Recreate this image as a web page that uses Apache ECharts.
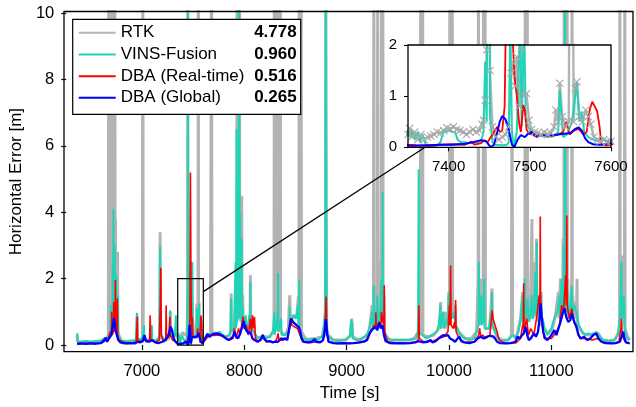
<!DOCTYPE html>
<html><head><meta charset="utf-8">
<script src="https://cdn.jsdelivr.net/npm/echarts@6/dist/echarts.min.js"></script>
<style>html,body{margin:0;padding:0;background:#fff}#c{width:636px;height:407px}</style>
</head><body><div id="c"></div>
<script>
const xTicks = [7000, 8000, 9000, 10000, 11000];
const yTicks = [0, 2, 4, 6, 8, 10];
const insetXTicks = [7400, 7500, 7600];
const insetYTicks = [0, 1, 2];
const legendNames = ['RTK', 'VINS-Fusion', 'DBA (Real-time)', 'DBA (Global)'];
const legendValues = ['4.778', '0.960', '0.516', '0.265'];

// RTK horizontal error [time s, error m]
const rtk = [[6368,0.3],[6372,0.1],[6420,0.08],[6470,0.09],[6520,0.08],[6570,0.1],[6610,0.12],[6640,0.18],[6660,0.2],[6672,0.3],[6676,12],[6680,0.4],[6690,0.5],[6700,2.0],[6704,0.5],[6706,12],[6710,0.6],[6718,0.5],[6725,1.2],[6731,0.6],[6735,12],[6739,0.8],[6742,3.8],[6746,0.6],[6755,0.5],[6762,2.8],[6766,0.4],[6775,0.3],[6800,0.1],[6850,0.09],[6900,0.1],[6950,0.12],[6953,0.9],[6957,0.15],[7005,0.2],[7009,12],[7013,0.2],[7050,0.12],[7100,0.15],[7140,0.12],[7174,0.2],[7178,3.4],[7182,0.3],[7220,0.12],[7260,0.2],[7274,0.3],[7277,1.0],[7280,0.3],[7320,0.25],[7330,0.4],[7335,0.6],[7340,0.3],[7345,0.25],
[7350,0.25],[7352,0.37],[7355,0.2],[7358,0.3],[7362,0.15],[7366,0.25],[7370,0.15],[7374,0.2],[7378,0.22],[7382,0.25],[7386,0.3],[7390,0.28],[7394,0.33],[7398,0.38],[7402,0.36],[7406,0.4],[7410,0.35],[7414,0.33],[7418,0.3],[7422,0.25],[7426,0.3],[7430,0.35],[7434,0.3],[7438,0.33],[7441,0.45],[7443,0.53],[7445,0.92],[7447,1.9],[7449,12],[7451,1.5],[7454,0.4],[7458,0.2],[7462,0.15],[7466,0.2],[7470,0.25],[7474,0.4],[7477,1.45],[7480,1.64],[7482,1.2],[7484,1.77],[7487,0.8],[7490,1.95],[7493,1.0],[7496,1.05],[7499,0.53],[7502,0.35],[7506,0.3],[7510,0.28],[7514,0.25],[7518,0.3],[7522,0.26],[7526,0.28],[7530,0.4],[7532,0.73],[7535,0.5],[7537,1.25],[7540,0.6],[7544,0.4],[7548,0.5],[7551,12],[7554,0.5],[7556,1.15],[7558,1.28],[7561,0.6],[7565,0.5],[7569,0.73],[7572,0.6],[7575,0.45],[7579,0.2],[7583,0.15],[7587,0.12],[7591,0.15],[7595,0.1],[7600,0.12],
[7610,0.15],[7640,0.3],[7670,0.28],[7678,0.3],[7681,12],[7684,0.3],[7710,0.3],[7750,0.35],[7790,0.28],[7830,0.25],[7860,0.3],[7869,0.5],[7872,1.55],[7876,0.4],[7900,0.5],[7912,0.6],[7915,2.0],[7918,0.6],[7927,0.8],[7930,12],[7933,0.9],[7938,4],[7942,0.8],[7950,1.0],[7953,12],[7956,1.0],[7962,3],[7966,0.7],[7975,4.5],[7979,0.6],[7985,1.5],[7990,0.6],[8000,0.8],[8030,0.5],[8056,0.6],[8060,2.1],[8064,0.5],[8090,0.4],[8120,0.25],[8160,0.2],[8200,0.25],[8250,0.25],[8280,0.4],[8291,0.5],[8294,12],[8297,0.5],[8318,0.6],[8321,12],[8324,0.6],[8340,0.6],[8344,1.0],[8349,0.5],[8352,12],[8355,0.4],[8400,0.3],[8430,0.5],[8445,1.5],[8449,0.8],[8480,0.9],[8510,0.8],[8530,1.5],[8534,0.7],[8537,12],[8540,0.7],[8552,0.8],[8556,12],[8559,0.4],[8600,0.18],[8650,0.18],[8700,0.2],[8760,0.25],[8790,0.7],[8794,1.5],[8797,12],[8800,12],[8803,2.0],[8806,0.5],[8820,0.3],[8870,0.15],[8930,0.15],[8990,0.15],[9040,0.3],[9050,0.8],[9060,0.25],[9120,0.15],[9180,0.25],[9220,0.4],[9250,1.2],[9256,0.6],[9262,1.0],[9266,12],[9270,0.8],[9290,0.9],[9295,1.8],[9300,0.8],[9304,12],[9308,0.8],[9330,1.0],[9335,2.5],[9339,0.9],[9342,12],[9346,1.0],[9351,3.0],[9354,12],[9357,0.8],[9365,1.5],[9370,0.4],[9380,0.3],[9420,0.15],[9480,0.15],[9540,0.15],[9600,0.15],[9660,0.2],[9700,0.4],[9704,0.8],[9708,0.3],[9721,0.5],[9724,12],[9727,0.4],[9740,0.4],[9743,12],[9746,0.3],[9800,0.25],[9850,0.3],[9890,0.45],[9915,0.6],[9919,1.3],[9923,0.5],[9960,1.0],[9965,0.5],[9985,1.0],[9990,0.6],[10000,1.5],[10005,0.8],[10009,12],[10013,1.0],[10020,1.5],[10025,0.8],[10032,12],[10036,0.8],[10045,1.0],[10060,1.2],[10065,0.5],[10080,0.5],[10110,0.35],[10160,0.2],[10220,0.2],[10270,0.4],[10285,2.0],[10288,12],[10291,0.8],[10300,1.5],[10305,0.6],[10320,2.0],[10325,0.7],[10334,0.9],[10337,12],[10340,0.8],[10345,2.5],[10350,0.8],[10353,12],[10356,0.5],[10365,0.5],[10400,0.5],[10420,1.7],[10425,0.6],[10440,0.6],[10470,0.25],[10520,0.15],[10580,0.15],[10610,0.3],[10616,8],[10622,0.3],[10660,0.25],[10700,0.8],[10720,1.6],[10725,0.6],[10742,0.8],[10745,12],[10748,0.8],[10762,0.9],[10765,12],[10768,0.9],[10775,1.5],[10780,0.7],[10795,0.9],[10807,0.9],[10811,3.8],[10815,0.8],[10838,0.9],[10842,2.5],[10846,0.9],[10855,3.2],[10859,0.9],[10870,1.3],[10875,0.7],[10900,1.6],[10905,0.6],[10930,0.5],[10970,0.35],[11010,0.5],[11040,0.9],[11070,1.6],[11075,0.8],[11090,2.0],[11095,0.8],[11112,1.0],[11115,3.2],[11119,1.0],[11122,1.5],[11125,12],[11128,1.2],[11131,1.5],[11134,12],[11137,1.5],[11144,3],[11148,1.2],[11151,1.5],[11154,12],[11157,1.0],[11162,2.0],[11167,0.9],[11185,1.2],[11199,1.0],[11202,12],[11205,1.0],[11210,1.5],[11215,0.8],[11230,1.3],[11247,0.8],[11251,2.0],[11255,0.6],[11270,0.6],[11310,0.35],[11360,0.3],[11420,0.35],[11460,0.35],[11500,0.15],[11560,0.12],[11620,0.15],[11660,0.4],[11667,0.8],[11670,12],[11673,0.8],[11680,1.5],[11685,0.8],[11690,2.7],[11695,0.8],[11705,1.2],[11714,0.6],[11718,12],[11721,0.5],[11745,0.25],[11765,0.15]];

// VINS-Fusion
const vins = [[6368,0.36],[6371,0.1],[6400,0.1],[6450,0.12],[6500,0.1],[6550,0.12],[6600,0.14],[6640,0.22],[6660,0.2],[6680,0.3],[6692,0.4],[6695,1.2],[6698,0.4],[6712,0.5],[6715,2.5],[6718,0.5],[6719,0.6],[6722,4.1],[6725,0.6],[6732,0.6],[6735,3.0],[6738,0.6],[6747,0.5],[6750,2.1],[6753,0.5],[6762,0.4],[6765,1.5],[6768,0.3],[6775,0.25],[6800,0.14],[6850,0.12],[6900,0.14],[6940,0.15],[6949,0.2],[6952,0.97],[6955,0.2],[6990,0.15],[7010,0.25],[7017,0.2],[7020,0.6],[7023,0.2],[7060,0.15],[7090,0.2],[7094,0.2],[7097,0.6],[7100,0.15],[7140,0.14],[7170,0.25],[7175,0.3],[7178,2.97],[7181,0.5],[7185,1.2],[7189,0.3],[7220,0.15],[7250,0.25],[7270,0.4],[7273,0.4],[7276,1.05],[7279,0.4],[7310,0.2],[7325,0.4],[7329,0.4],[7332,0.9],[7335,0.3],[7340,0.3],
[7350,0.31],[7352,0.2],[7355,0.34],[7358,0.15],[7362,0.3],[7365,0.1],[7368,0.25],[7372,0.05],[7378,0.02],[7385,0.03],[7390,0.1],[7393,0.28],[7396,0.32],[7400,0.33],[7404,0.3],[7408,0.3],[7411,0.15],[7415,0.1],[7420,0.1],[7425,0.08],[7430,0.1],[7435,0.1],[7440,0.12],[7443,0.3],[7445,1.67],[7447,0.5],[7449,12],[7451,0.6],[7454,0.1],[7458,0.05],[7465,0.04],[7472,0.05],[7474,0.1],[7476,2.5],[7478,0.3],[7480,0.0],[7484,0.3],[7488,2.5],[7490,0.4],[7493,2.5],[7495,0.6],[7498,0.4],[7502,0.3],[7508,0.25],[7515,0.22],[7522,0.2],[7530,0.22],[7535,0.3],[7537,1.12],[7539,0.6],[7541,0.2],[7546,0.25],[7552,0.5],[7555,0.9],[7558,1.25],[7561,0.5],[7564,0.7],[7567,0.3],[7572,0.2],[7578,0.15],[7583,0.12],[7588,0.2],[7592,0.15],[7596,0.12],[7600,0.15],
[7620,0.25],[7640,0.35],[7670,0.3],[7700,0.38],[7730,0.35],[7760,0.4],[7790,0.3],[7820,0.25],[7850,0.3],[7865,0.4],[7869,0.8],[7872,1.4],[7876,0.4],[7900,0.5],[7912,0.5],[7915,2.5],[7918,0.5],[7922,0.6],[7925,6.5],[7928,0.7],[7937,0.8],[7940,5.0],[7943,0.8],[7947,0.8],[7950,12],[7953,12],[7956,0.9],[7960,4.0],[7963,0.8],[7972,0.8],[7975,3.2],[7978,0.7],[7985,1.2],[7990,0.5],[8000,0.7],[8015,0.9],[8020,0.4],[8030,0.5],[8050,0.9],[8057,0.5],[8060,1.9],[8063,0.5],[8090,0.45],[8110,0.3],[8140,0.2],[8180,0.3],[8210,0.2],[8250,0.25],[8280,0.4],[8291,0.4],[8294,1.0],[8297,0.3],[8322,0.8],[8327,0.4],[8330,2.17],[8333,0.4],[8360,0.8],[8365,0.3],[8400,0.3],[8430,0.4],[8442,0.5],[8445,1.16],[8448,0.6],[8470,0.8],[8490,0.9],[8510,0.8],[8525,1.2],[8530,0.6],[8534,0.7],[8537,1.96],[8540,0.5],[8570,0.2],[8620,0.15],[8680,0.2],[8720,0.15],[8770,0.3],[8790,1.0],[8795,12],[8800,12],[8804,1.5],[8808,0.3],[8820,0.25],[8860,0.15],[8920,0.12],[8980,0.15],[9030,0.25],[9042,0.3],[9045,0.77],[9048,0.3],[9052,0.3],[9055,0.7],[9058,0.2],[9100,0.15],[9150,0.2],[9200,0.3],[9230,0.6],[9250,1.0],[9255,0.5],[9262,0.6],[9265,1.8],[9268,0.6],[9280,1.0],[9285,0.5],[9300,1.5],[9305,0.6],[9320,1.0],[9325,0.6],[9340,2.0],[9344,0.7],[9349,0.8],[9352,4.6],[9355,0.8],[9360,1.2],[9365,0.4],[9375,0.4],[9400,0.2],[9450,0.15],[9500,0.15],[9560,0.15],[9620,0.15],[9680,0.2],[9698,0.4],[9701,0.4],[9704,5.3],[9707,0.4],[9740,0.3],[9780,0.2],[9830,0.3],[9880,0.4],[9900,0.6],[9915,1.2],[9920,0.5],[9945,1.0],[9950,0.5],[9960,0.6],[9980,0.8],[9992,0.6],[9995,1.6],[9999,0.6],[10010,1.0],[10030,0.8],[10050,1.0],[10065,0.6],[10085,0.5],[10110,0.3],[10150,0.2],[10200,0.15],[10250,0.2],[10280,0.5],[10289,0.6],[10292,2.5],[10295,0.6],[10315,1.5],[10320,0.6],[10330,0.7],[10342,0.7],[10345,2.0],[10348,0.5],[10360,0.5],[10390,0.5],[10410,1.0],[10417,0.7],[10420,1.6],[10423,0.6],[10450,0.4],[10480,0.2],[10520,0.12],[10580,0.15],[10620,0.3],[10650,0.2],[10680,0.4],[10700,0.8],[10720,1.5],[10725,0.7],[10737,0.8],[10740,2.0],[10743,0.8],[10755,1.0],[10770,1.4],[10775,0.7],[10790,0.8],[10810,1.5],[10815,0.8],[10830,1.0],[10845,2.2],[10850,0.9],[10856,1.0],[10859,3.1],[10862,1.0],[10870,1.2],[10885,0.9],[10900,1.5],[10905,0.7],[10915,0.8],[10935,0.5],[10960,0.3],[11000,0.5],[11030,0.8],[11060,1.0],[11080,1.5],[11085,0.8],[11100,2.0],[11105,0.9],[11117,1.0],[11120,3.0],[11123,1.0],[11131,1.2],[11134,12],[11137,12],[11140,1.3],[11142,2.5],[11146,1.0],[11160,1.6],[11165,0.8],[11180,1.0],[11200,1.8],[11205,0.9],[11220,1.2],[11245,1.0],[11270,0.6],[11300,0.4],[11330,0.3],[11360,0.35],[11400,0.3],[11440,0.4],[11470,0.25],[11510,0.15],[11560,0.12],[11610,0.15],[11650,0.3],[11670,0.8],[11682,0.8],[11685,2.5],[11688,0.8],[11695,1.0],[11710,1.5],[11715,0.5],[11720,0.4],[11740,0.2],[11765,0.15]];

// DBA (Real-time)
const dbaRt = [[6368,0.05],[6400,0.04],[6500,0.05],[6600,0.06],[6640,0.2],[6660,0.1],[6690,0.4],[6702,0.3],[6705,1.0],[6708,0.3],[6722,0.4],[6725,1.3],[6729,0.4],[6738,0.5],[6741,1.96],[6744,0.5],[6757,0.4],[6760,1.4],[6764,0.3],[6775,0.15],[6790,0.1],[6850,0.05],[6900,0.06],[6945,0.1],[6952,0.15],[6955,0.85],[6958,0.15],[6990,0.1],[7020,0.2],[7050,0.1],[7075,0.15],[7081,0.9],[7086,0.15],[7130,0.08],[7170,0.15],[7180,1.2],[7185,2.33],[7190,0.3],[7210,0.1],[7233,0.2],[7237,1.2],[7241,0.2],[7265,0.25],[7271,0.3],[7274,0.85],[7278,0.3],[7300,0.15],[7330,0.1],
[7350,0.05],[7360,0.04],[7375,0.03],[7390,0.05],[7405,0.06],[7420,0.05],[7428,0.11],[7432,0.05],[7440,0.08],[7444,0.14],[7448,0.1],[7452,0.2],[7456,0.3],[7460,0.4],[7463,0.3],[7466,0.32],[7469,0.8],[7471,3.0],[7474,5.2],[7477,3.5],[7479,2.1],[7481,1.4],[7484,1.0],[7487,0.45],[7489,0.3],[7492,0.83],[7494,0.7],[7496,0.35],[7500,0.25],[7504,0.3],[7508,0.2],[7515,0.24],[7525,0.22],[7535,0.25],[7541,0.3],[7545,0.5],[7549,0.25],[7555,0.33],[7560,0.36],[7566,0.25],[7570,0.3],[7574,0.75],[7577,0.89],[7580,0.8],[7583,0.7],[7586,0.4],[7588,0.05],[7595,0.04],[7600,0.05],
[7630,0.2],[7660,0.3],[7700,0.3],[7750,0.3],[7800,0.25],[7850,0.15],[7890,0.2],[7905,0.5],[7920,0.2],[7945,0.5],[7960,0.3],[7975,0.6],[7990,0.85],[8000,0.5],[8020,0.6],[8040,0.3],[8060,0.8],[8070,0.4],[8080,0.9],[8090,0.5],[8100,0.85],[8110,0.2],[8140,0.1],[8180,0.25],[8200,0.15],[8250,0.1],[8300,0.1],[8320,0.2],[8330,0.35],[8340,0.15],[8380,0.15],[8420,0.2],[8440,0.5],[8450,0.8],[8465,0.6],[8490,0.55],[8520,0.5],[8545,0.3],[8570,0.1],[8640,0.07],[8700,0.1],[8760,0.1],[8785,0.3],[8795,1.0],[8800,1.46],[8806,0.4],[8820,0.1],[8900,0.05],[9000,0.05],[9100,0.06],[9180,0.1],[9220,0.3],[9250,0.5],[9270,0.6],[9283,0.5],[9286,0.98],[9290,0.5],[9320,0.7],[9336,0.6],[9340,1.0],[9355,0.7],[9364,0.6],[9368,1.8],[9372,0.4],[9400,0.1],[9500,0.06],[9600,0.06],[9690,0.1],[9702,0.2],[9706,1.2],[9710,0.2],[9750,0.1],[9850,0.12],[9900,0.2],[9950,0.25],[9990,0.4],[10005,1.2],[10010,0.6],[10016,2.4],[10021,0.6],[10040,0.5],[10055,0.7],[10061,0.5],[10065,1.36],[10070,0.4],[10100,0.2],[10150,0.08],[10250,0.1],[10290,0.3],[10300,0.5],[10310,0.25],[10330,0.3],[10360,0.2],[10400,0.3],[10415,0.8],[10422,1.05],[10430,0.8],[10450,0.6],[10470,0.4],[10490,0.15],[10550,0.05],[10650,0.06],[10700,0.2],[10720,0.6],[10726,0.5],[10730,1.86],[10734,0.4],[10760,0.8],[10775,0.3],[10800,0.5],[10830,0.3],[10860,0.9],[10880,1.5],[10888,0.9],[10892,3.87],[10896,1.0],[10915,0.6],[10930,0.2],[11000,0.2],[11050,0.4],[11080,0.6],[11100,1.2],[11120,1.0],[11140,2.1],[11147,1.2],[11151,3.9],[11155,1.2],[11175,0.8],[11200,1.1],[11220,0.7],[11250,0.5],[11280,0.2],[11320,0.2],[11400,0.15],[11450,0.2],[11500,0.08],[11600,0.05],[11660,0.1],[11680,0.5],[11686,0.8],[11692,0.3],[11720,0.1],[11765,0.05]];

// DBA (Global)
const dbaGl = [[6368,0.03],[6400,0.05],[6450,0.04],[6500,0.05],[6550,0.04],[6600,0.06],[6630,0.12],[6645,0.22],[6660,0.1],[6680,0.2],[6700,0.3],[6715,0.55],[6728,0.82],[6740,0.5],[6755,0.3],[6770,0.15],[6790,0.08],[6830,0.05],[6880,0.06],[6930,0.05],[6960,0.1],[6980,0.08],[7010,0.12],[7025,0.3],[7040,0.12],[7070,0.1],[7100,0.15],[7130,0.08],[7160,0.06],[7200,0.1],[7230,0.15],[7260,0.3],[7280,0.55],[7295,0.45],[7310,0.2],[7330,0.1],
[7350,0.03],[7360,0.03],[7375,0.04],[7390,0.05],[7405,0.05],[7420,0.07],[7430,0.1],[7440,0.14],[7446,0.12],[7452,0.0],[7456,0.05],[7460,0.3],[7463,0.5],[7466,0.61],[7470,0.55],[7474,0.35],[7478,0.05],[7481,0.01],[7485,0.15],[7489,0.24],[7494,0.2],[7498,0.27],[7502,0.3],[7506,0.22],[7512,0.24],[7520,0.23],[7530,0.24],[7540,0.26],[7550,0.28],[7556,0.36],[7560,0.39],[7564,0.33],[7568,0.18],[7572,0.1],[7578,0.06],[7585,0.05],[7592,0.06],[7600,0.08],
[7620,0.2],[7640,0.33],[7660,0.25],[7680,0.3],[7700,0.33],[7730,0.35],[7760,0.32],[7790,0.28],[7820,0.2],[7850,0.15],[7870,0.2],[7890,0.25],[7905,0.4],[7920,0.25],[7940,0.2],[7960,0.35],[7980,0.55],[7995,0.72],[8010,0.5],[8025,0.55],[8040,0.35],[8060,0.4],[8080,0.2],[8100,0.15],[8130,0.1],[8160,0.15],[8180,0.3],[8195,0.2],[8220,0.1],[8250,0.12],[8280,0.08],[8300,0.1],[8330,0.1],[8360,0.2],[8380,0.18],[8400,0.2],[8420,0.15],[8440,0.5],[8460,0.8],[8475,0.7],[8490,0.65],[8510,0.6],[8530,0.55],[8545,0.45],[8560,0.2],[8580,0.1],[8620,0.08],[8660,0.1],[8690,0.18],[8700,0.1],[8740,0.08],[8770,0.15],[8785,0.4],[8797,0.78],[8810,0.35],[8825,0.1],[8870,0.06],[8920,0.05],[8970,0.06],[9020,0.05],[9070,0.06],[9120,0.08],[9160,0.1],[9200,0.15],[9225,0.35],[9245,0.45],[9260,0.4],[9280,0.55],[9300,0.45],[9318,0.68],[9335,0.5],[9350,0.6],[9365,0.3],[9380,0.12],[9420,0.06],[9470,0.05],[9520,0.06],[9570,0.05],[9620,0.06],[9670,0.08],[9700,0.12],[9720,0.1],[9750,0.08],[9790,0.1],[9820,0.15],[9840,0.08],[9870,0.12],[9900,0.2],[9920,0.25],[9945,0.3],[9970,0.28],[9990,0.3],[10010,0.2],[10040,0.15],[10060,0.1],[10080,0.18],[10100,0.25],[10120,0.12],[10150,0.08],[10200,0.06],[10250,0.1],[10280,0.2],[10310,0.25],[10340,0.2],[10370,0.25],[10400,0.28],[10430,0.26],[10450,0.2],[10470,0.1],[10500,0.06],[10550,0.05],[10600,0.06],[10650,0.1],[10670,0.25],[10690,0.2],[10710,0.28],[10730,0.35],[10748,0.55],[10765,0.3],[10780,0.15],[10800,0.2],[10830,0.35],[10850,0.25],[10870,0.4],[10885,0.8],[10895,1.26],[10905,0.9],[10920,0.4],[10940,0.2],[10960,0.15],[10990,0.25],[11010,0.35],[11030,0.45],[11050,0.3],[11070,0.5],[11090,0.7],[11110,0.95],[11130,1.1],[11145,0.85],[11165,0.7],[11185,0.75],[11200,0.95],[11212,1.0],[11225,0.7],[11245,0.55],[11265,0.3],[11290,0.2],[11320,0.25],[11350,0.15],[11380,0.2],[11410,0.3],[11440,0.35],[11460,0.2],[11490,0.1],[11530,0.06],[11580,0.05],[11630,0.06],[11670,0.1],[11690,0.3],[11703,0.4],[11715,0.2],[11730,0.08],[11765,0.05]];

const COLORS = { rtk: '#b3b3b3', vins: '#1fd4b6', rt: '#ff0000', gl: '#0000ff' };
const FONT = 'Liberation Sans, Arial, sans-serif';

// layout
const MAIN = { left: 64, top: 11.5, width: 569, height: 340.2 };
const INS = { left: 408, top: 45, width: 203, height: 102.3 };

const chart = echarts.init(document.getElementById('c'), null, { renderer: 'canvas' });

function mkLine(name, data, color, width, xi, z, extra) {
  return Object.assign({
    name: name, type: 'line', data: data, xAxisIndex: xi, yAxisIndex: xi,
    showSymbol: false, symbol: 'none', clip: true, z: z, silent: true,
    lineStyle: { color: color, width: width }, itemStyle: { color: color },
    animation: false
  }, extra || {});
}

const xmark = 'path://M0,1L1,0L5,4L9,0L10,1L6,5L10,9L9,10L5,6L1,10L0,9L4,5Z';

const option = {
  animation: false,
  backgroundColor: '#fff',
  textStyle: { fontFamily: FONT },
  grid: [
    { left: MAIN.left, top: MAIN.top, width: MAIN.width, height: MAIN.height, containLabel: false },
    { left: INS.left, top: INS.top, width: INS.width, height: INS.height, containLabel: false }
  ],
  xAxis: [
    { type: 'value', gridIndex: 0, min: 6261, max: 11798,
      axisLine: { show: false },
      axisTick: { show: true, inside: false, length: 5, lineStyle: { color: '#000', width: 1.2 }, customValues: xTicks },
      axisLabel: { customValues: xTicks, color: '#000', fontSize: 16.5, fontFamily: FONT, margin: 11,
        formatter: v => (xTicks.indexOf(v) >= 0 ? String(v) : '') },
      splitLine: { show: false },
      name: 'Time [s]', nameLocation: 'middle', nameGap: 32,
      nameTextStyle: { color: '#000', fontSize: 17, fontFamily: FONT } },
    { type: 'value', gridIndex: 1, min: 7350, max: 7600, z: 7,
      axisLine: { show: false },
      axisTick: { show: true, inside: false, length: 4, lineStyle: { color: '#000', width: 1.1 }, customValues: insetXTicks },
      axisLabel: { customValues: insetXTicks, color: '#000', fontSize: 15, fontFamily: FONT, margin: 12,
        formatter: v => (insetXTicks.indexOf(v) >= 0 ? String(v) : '') },
      splitLine: { show: false } }
  ],
  yAxis: [
    { type: 'value', gridIndex: 0, min: -0.2, max: 10.05,
      axisLine: { show: false },
      axisTick: { show: true, inside: false, length: 5, lineStyle: { color: '#000', width: 1.2 }, customValues: yTicks },
      axisLabel: { customValues: yTicks, color: '#000', fontSize: 16.5, fontFamily: FONT, margin: 12,
        formatter: v => (yTicks.indexOf(v) >= 0 ? String(v) : '') },
      splitLine: { show: false },
      name: 'Horizontal Error [m]', nameLocation: 'middle', nameGap: 35, nameRotate: 90,
      nameTextStyle: { color: '#000', fontSize: 17, fontFamily: FONT } },
    { type: 'value', gridIndex: 1, min: 0, max: 2, z: 7,
      axisLine: { show: false },
      axisTick: { show: true, inside: false, length: 4, lineStyle: { color: '#000', width: 1.1 }, customValues: insetYTicks },
      axisLabel: { customValues: insetYTicks, color: '#000', fontSize: 15, fontFamily: FONT, margin: 11,
        formatter: v => (insetYTicks.indexOf(v) >= 0 ? String(v) : '') },
      splitLine: { show: false } }
  ],
  legend: {
    data: legendNames, orient: 'vertical', left: 72.7, top: 19.3, z: 20,
    padding: [5, 4, 8, 6], itemGap: 4.67, itemWidth: 37, itemHeight: 2, icon: 'rect',
    backgroundColor: '#fff', borderColor: '#000', borderWidth: 1.2, borderRadius: 0,
    selectedMode: false,
    formatter: name => '{n|' + name + '}{v|' + legendValues[legendNames.indexOf(name)] + '}',
    textStyle: { color: '#000', fontFamily: FONT, fontSize: 17,
      rich: {
        n: { width: 131, fontSize: 17, lineHeight: 20, fontFamily: FONT, color: '#000' },
        v: { width: 45, align: 'right', fontSize: 17, lineHeight: 20, fontWeight: 'bold', fontFamily: FONT, color: '#000' }
      } }
  },
  series: [
    mkLine('RTK', rtk, COLORS.rtk, 3.0, 0, 2),
    mkLine('VINS-Fusion', vins, COLORS.vins, 2.0, 0, 2),
    mkLine('DBA (Real-time)', dbaRt, COLORS.rt, 1.6, 0, 2),
    mkLine('DBA (Global)', dbaGl, COLORS.gl, 2.3, 0, 2),
    mkLine('RTK_in', rtk, COLORS.rtk, 2.4, 1, 6, { showSymbol: true, symbol: xmark, symbolSize: 8, itemStyle: { color: '#aaaaaa' } }),
    mkLine('VINS_in', vins, COLORS.vins, 2.0, 1, 6),
    mkLine('RT_in', dbaRt, COLORS.rt, 1.8, 1, 6),
    mkLine('GL_in', dbaGl, COLORS.gl, 2.0, 1, 6)
  ]
};
chart.setOption(option);

// decorations: frames, zoom box, connector
const p0 = chart.convertToPixel({ gridIndex: 0 }, [7350, 0]);
const p1 = chart.convertToPixel({ gridIndex: 0 }, [7600, 2]);
const c0 = chart.convertToPixel({ gridIndex: 0 }, [7600, 1.61]);
const c1 = chart.convertToPixel({ gridIndex: 1 }, [7371, 0]);
chart.setOption({
  graphic: { elements: [
    { type: 'rect', z: 4, silent: true, shape: { x: MAIN.left, y: MAIN.top, width: MAIN.width, height: MAIN.height },
      style: { fill: 'none', stroke: '#000', lineWidth: 1.3 } },
    { type: 'rect', z: 4, silent: true, shape: { x: p0[0], y: p1[1], width: p1[0] - p0[0], height: p0[1] - p1[1] },
      style: { fill: 'none', stroke: '#000', lineWidth: 1.2 } },
    { type: 'line', z: 4, silent: true, shape: { x1: c0[0], y1: c0[1], x2: c1[0], y2: c1[1] },
      style: { stroke: '#000', lineWidth: 1.2 } },
    { type: 'rect', z: 5, silent: true, shape: { x: INS.left, y: INS.top, width: INS.width, height: INS.height },
      style: { fill: '#fff', stroke: 'none' } },
    { type: 'rect', z: 8, silent: true, shape: { x: INS.left, y: INS.top, width: INS.width, height: INS.height },
      style: { fill: 'none', stroke: '#000', lineWidth: 1.3 } }
  ] }
});
</script>
</body></html>
